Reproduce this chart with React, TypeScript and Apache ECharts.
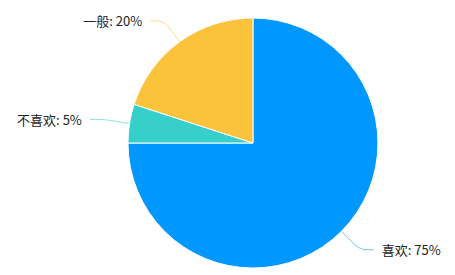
import React, { useEffect, useRef } from "react";
import * as echarts from "echarts";

const categories = ["喜欢", "不喜欢", "一般"];
const values = [75, 5, 20];
const colors = ["#0098FF", "#36CFC9", "#FBC33C"];

export default function App() {
  const ref = useRef<HTMLDivElement>(null);
  useEffect(() => {
    const chart = echarts.init(ref.current!, null, { renderer: "svg" });
    chart.setOption({
      animation: false,
      color: colors,
      series: [
        {
          type: "pie",
          center: ["55.6%", "52%"],
          radius: 125,
          startAngle: 90,
          clockwise: true,
          data: categories.map((c, i) => ({ name: c, value: values[i] })),
          itemStyle: { borderColor: "#fff", borderWidth: 1 },
          label: {
            formatter: "{b}: {d}%",
            color: "#222",
            fontSize: 13,
            fontFamily: "Noto Sans CJK SC",
            distanceToLabelLine: 8,
          },
          labelLine: {
            length: 26,
            length2: 14,
            smooth: 0.3,
            lineStyle: { opacity: 0.6, width: 1 },
          },
        },
      ],
    });
    return () => chart.dispose();
  }, []);
  return (
    <div
      ref={ref}
      style={{ position: "absolute", left: 0, top: 0, width: 455, height: 275 }}
    />
  );
}
